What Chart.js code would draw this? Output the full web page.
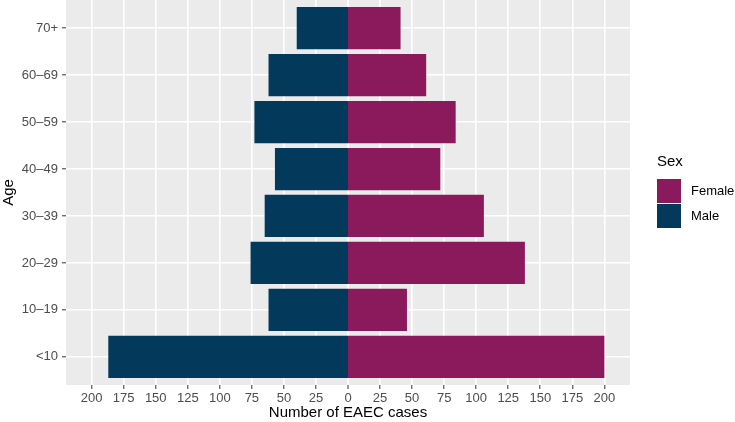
<!DOCTYPE html>
<html>
<head>
<meta charset="utf-8">
<script src="https://cdn.jsdelivr.net/npm/chart.js@4.4.1/dist/chart.umd.min.js"></script>
<style>
  html, body { margin: 0; padding: 0; background: #fff; }
  #wrap { position: relative; width: 735px; height: 422px; font-family: "Liberation Sans", Arial, sans-serif; }
  #legend { position: absolute; left: 657px; top: 151px; }
  #legend .title { font-size: 15px; color: #000; line-height: 20px; margin-bottom: 7px; }
  #legend .item { display: flex; align-items: center; height: 25px; font-size: 13px; color: #000; }
  #legend .swatch { width: 24px; height: 24px; margin-right: 10px; }
</style>
</head>
<body>
<div id="wrap">
  <canvas id="pyramid"></canvas>
  <div id="legend"></div>
</div>
<script>
// age groups from bottom (<10) to top (70+)
const ageGroups = ['<10', '10–19', '20–29', '30–39', '40–49', '50–59', '60–69', '70+'];
const maleCases = [187, 62, 76, 65, 57, 73, 62, 40];
const femaleCases = [200, 46, 138, 106, 72, 84, 61, 41];
const xTicks = [-200, -175, -150, -125, -100, -75, -50, -25, 0, 25, 50, 75, 100, 125, 150, 175, 200];

Chart.defaults.font.family = '"Liberation Sans", Arial, sans-serif';

const GRID_W = 1.6;

// grey panel behind the grid, ggplot style.
// the zero line is drawn here so chart.js doesn't shrink the bars around it
const panelBg = {
    id: 'panelBg',
    beforeDraw(chart) {
        const { ctx, chartArea: a } = chart;
        const x0 = chart.scales.x.getPixelForValue(0);
        ctx.save();
        ctx.fillStyle = '#ebebeb';
        ctx.fillRect(a.left, a.top, a.width, a.height);
        ctx.strokeStyle = '#ffffff';
        ctx.lineWidth = GRID_W;
        ctx.beginPath();
        ctx.moveTo(x0, a.top);
        ctx.lineTo(x0, a.bottom);
        ctx.stroke();
        ctx.restore();
    }
};

const chart = new Chart(document.getElementById('pyramid'), {
    type: 'bar',
    data: {
        datasets: [
            {
                label: 'Female',
                data: femaleCases.map((v, i) => ({ x: v, y: i + 1 })),
                backgroundColor: '#8b1a5d'
            },
            {
                label: 'Male',
                data: maleCases.map((v, i) => ({ x: -v, y: i + 1 })),
                backgroundColor: '#033a5c'
            }
        ]
    },
    options: {
        indexAxis: 'y',
        responsive: true,
        maintainAspectRatio: false,
        animation: false,
        layout: { padding: { top: 0, right: 105, bottom: 0, left: 0 } },
        datasets: {
            bar: { barPercentage: 0.9, categoryPercentage: 1.0, borderWidth: 0 }
        },
        scales: {
            x: {
                type: 'linear',
                stacked: true,
                min: -220,
                max: 220,
                afterBuildTicks: (axis) => { axis.ticks = xTicks.map(v => ({ value: v })); },
                afterFit: (axis) => {
                    axis.height = 37;
                    axis.paddingLeft = 0;
                    axis.paddingRight = 0;
                },
                border: { display: false },
                grid: {
                    color: '#ffffff',
                    lineWidth: (c) => (c.tick && c.tick.value === 0 ? 0 : GRID_W),
                    tickColor: '#333333',
                    tickWidth: 1,
                    tickLength: 4
                },
                ticks: {
                    color: '#4d4d4d',
                    font: { size: 13 },
                    padding: 2,
                    maxRotation: 0,
                    callback: (v) => Math.abs(v)
                },
                title: {
                    display: true,
                    text: 'Number of EAEC cases',
                    color: '#000',
                    font: { size: 15 },
                    padding: 0
                }
            },
            y: {
                type: 'linear',
                stacked: true,
                offset: false,
                min: 0.4,
                max: 8.6,
                afterBuildTicks: (axis) => { axis.ticks = ageGroups.map((_, i) => ({ value: i + 1 })); },
                afterFit: (axis) => {
                    axis.width = 66;
                    axis.paddingTop = 0;
                    axis.paddingBottom = 0;
                },
                border: { display: false },
                grid: { offset: false, color: '#ffffff', lineWidth: GRID_W, tickColor: '#333333', tickWidth: 1, tickLength: 4 },
                ticks: {
                    color: '#4d4d4d',
                    font: { size: 13 },
                    padding: 4,
                    callback: (v) => ageGroups[Math.round(v) - 1]
                },
                title: {
                    display: true,
                    text: 'Age',
                    color: '#000',
                    font: { size: 15 },
                    padding: 0
                }
            }
        },
        plugins: {
            tooltip: { enabled: false },
            legend: { display: false }
        }
    },
    plugins: [panelBg]
});

// legend as html, built from the datasets
const legend = document.getElementById('legend');
legend.innerHTML = '<div class="title">Sex</div>' + chart.data.datasets.map(ds =>
    `<div class="item"><span class="swatch" style="background:${ds.backgroundColor}"></span>${ds.label}</div>`
).join('');
</script>
</body>
</html>
